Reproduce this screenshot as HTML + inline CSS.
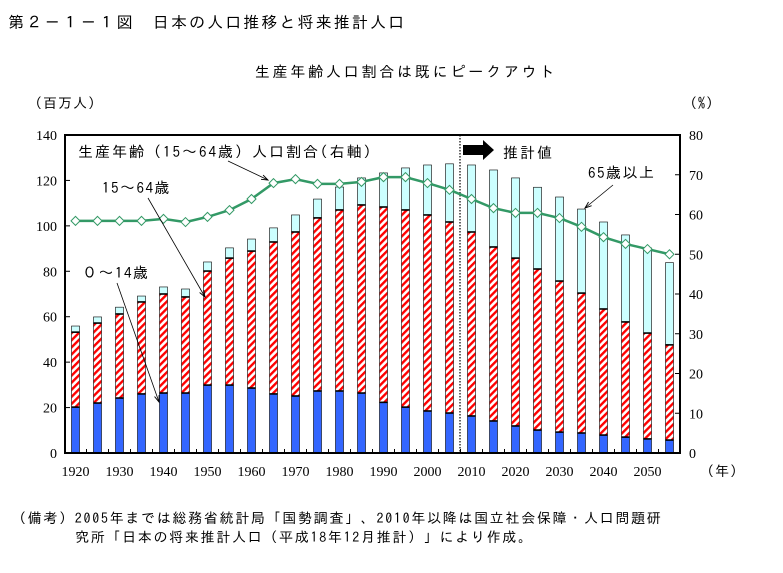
<!DOCTYPE html>
<html><head><meta charset="utf-8"><style>
body{margin:0;background:#fff;}
svg text{font-family:"Liberation Serif","Noto Serif CJK SC","Noto Sans CJK JP",serif;fill:#000;}
svg text.jp{font-family:"IPAGothic","Noto Sans CJK JP",sans-serif;}
</style></head><body>
<svg id="chart" width="783" height="568" viewBox="0 0 783 568" xmlns="http://www.w3.org/2000/svg">
<defs>
<pattern id="hatch" width="5" height="5" patternUnits="userSpaceOnUse" patternTransform="rotate(45)">
<rect width="5" height="5" fill="#fff"/><rect width="2.4" height="5" fill="#ff0000"/>
</pattern>
</defs>
<text class="jp" x="8" y="28" font-size="16" letter-spacing="2.1">第２－１－１図　日本の人口推移と将来推計人口</text>
<text class="jp" x="406" y="77" font-size="15" letter-spacing="2.8" text-anchor="middle">生産年齢人口割合は既にピークアウト</text>
<text class="jp" x="28" y="108" font-size="14" letter-spacing="1">（百万人）</text>
<text class="jp" x="683" y="108" font-size="14" letter-spacing="1">（%）</text>
<text class="jp" x="700" y="476" font-size="14" letter-spacing="1">（年）</text>
<text class="jp" x="12" y="523" font-size="14" letter-spacing="1.7">（備考）2005年までは総務省統計局「国勢調査」、2010年以降は国立社会保障・人口問題研</text>
<text class="jp" x="75" y="542" font-size="14" letter-spacing="1.7">究所「日本の将来推計人口（平成18年12月推計）」により作成。</text>
<g id="plot"></g>
</svg>
<script>
const years=[1920,1925,1930,1935,1940,1945,1950,1955,1960,1965,1970,1975,1980,1985,1990,1995,2000,2005,2010,2015,2020,2025,2030,2035,2040,2045,2050,2055];
const age0to14=[20.2,22,24.2,26,26.4,26.4,29.9,29.9,28.6,26,25.1,27.3,27.3,26.4,22.3,20.2,18.5,17.6,16.3,14.1,11.9,10.1,9.2,8.8,7.9,7,6.2,5.7];
const age15to64=[33,35.2,37,40.5,43.6,42.3,50.2,55.9,60.3,66.9,72.2,76.2,79.7,82.8,86,86.8,86.3,84.1,81,76.6,73.9,70.9,66.5,61.6,55.5,50.7,46.6,41.9];
const age65plus=[2.7,2.7,3,2.6,3.1,3.5,4,4.5,5.3,6.2,7.5,8.3,10.1,11.9,15,18.5,22,25.6,29.5,33.9,35.3,36,37,37,38.3,38.3,37.5,36.2];
const workingShare=[58.4,58.4,58.4,58.4,58.9,58.1,59.4,61.1,63.9,67.9,68.9,67.7,67.7,68.2,69.4,69.4,67.9,66.2,63.9,61.6,60.4,60.4,59.1,56.9,54.3,52.6,51.3,50];
const leftTicks=[0,20,40,60,80,100,120,140];
const rightTicks=[0,10,20,30,40,50,60,70,80];
const xLabels=[1920,1930,1940,1950,1960,1970,1980,1990,2000,2010,2020,2030,2040,2050];

const NS="http://www.w3.org/2000/svg";
const g=document.getElementById('plot');
const L=65,R=680,T=135,B=453;
const yL=v=>B-(v/140)*(B-T);
const yR=v=>B-(v/80)*(B-T);
const xC=yr=>75.5+(yr-1920)/5*22;
function mk(tag,attrs,parent){const e=document.createElementNS(NS,tag);for(const k in attrs)e.setAttribute(k,attrs[k]);(parent||g).appendChild(e);return e;}

years.forEach((yr,i)=>{
  const x=xC(yr)-4, w=8;
  const c=age0to14[i], wk=age15to64[i], o=age65plus[i];
  const b1=mk('rect',{x:x,y:yL(c),width:w,height:yL(0)-yL(c),fill:'#3366ff',stroke:'#000','stroke-width':0.6});
  
  
  const b2=mk('rect',{x:x,y:yL(c+wk),width:w,height:yL(c)-yL(c+wk),fill:'url(#hatch)',stroke:'#000','stroke-width':0.6});
  
  
  const b3=mk('rect',{x:x,y:yL(c+wk+o),width:w,height:yL(c+wk)-yL(c+wk+o),fill:'#ccffff',stroke:'#000','stroke-width':0.6});
  
  
  const s1=mk('line',{x1:x,x2:x+w,y1:yL(c),y2:yL(c),stroke:'#000','stroke-width':1.6});
  
  
  const s2=mk('line',{x1:x,x2:x+w,y1:yL(c+wk),y2:yL(c+wk),stroke:'#000','stroke-width':1.6});
  
  
});

const fr=mk('rect',{x:L,y:T,width:R-L,height:B-T,fill:'none',stroke:'#000','stroke-width':2});



leftTicks.forEach(v=>{
  const t=mk('line',{x1:L,x2:L+5,y1:yL(v),y2:yL(v),stroke:'#000'});
  
  
  const tx=mk('text',{x:L-8,y:yL(v)+5,'font-size':14,'text-anchor':'end'});
  tx.textContent=v;
  
  
});
rightTicks.forEach(v=>{
  const t=mk('line',{x1:R-5,x2:R,y1:yR(v),y2:yR(v),stroke:'#000'});
  
  
  const tx=mk('text',{x:R+9,y:yR(v)+5,'font-size':14});
  tx.textContent=v;
  
  
});
years.forEach(yr=>{
  const t=mk('line',{x1:xC(yr)+11,x2:xC(yr)+11,y1:B,y2:B-4,stroke:'#000'});
  
  
});
xLabels.forEach(yr=>{
  const tx=mk('text',{x:xC(yr),y:476,'font-size':14,'text-anchor':'middle'});
  tx.textContent=yr;
  
  
});

const dv=mk('line',{x1:460,x2:460,y1:T,y2:B,stroke:'#000','stroke-width':1.2,'stroke-dasharray':'1.5,1.5'});



const pts=years.map((yr,i)=>xC(yr)+','+yR(workingShare[i])).join(' ');
const pl=mk('polyline',{points:pts,fill:'none',stroke:'#339966','stroke-width':2.5});


years.forEach((yr,i)=>{
  const x=xC(yr),y=yR(workingShare[i]);
  const d=mk('polygon',{points:`${x},${y-4.5} ${x+4.5},${y} ${x},${y+4.5} ${x-4.5},${y}`,fill:'#fff',stroke:'#339966','stroke-width':1});
  
  
});

function ann(txt,x,y,name,ls){const t=mk('text',{x:x,y:y,'font-size':15,'class':'jp','letter-spacing':ls});t.textContent=txt;}
function arr(x1,y1,x2,y2,name){
  const l=mk('line',{x1:x1,y1:y1,x2:x2,y2:y2,stroke:'#000','stroke-width':0.8});
  
  
  const a=Math.atan2(y2-y1,x2-x1),s=7;
  const p=`${x2},${y2} ${x2-s*Math.cos(a-0.35)},${y2-s*Math.sin(a-0.35)} ${x2},${y2} ${x2-s*Math.cos(a+0.35)},${y2-s*Math.sin(a+0.35)}`;
  const h=mk('polyline',{points:p,fill:'none',stroke:'#000','stroke-width':0.9});
  
  
}
ann('生産年齢（15～64歳）人口割合(右軸)',78,157,'working-share-label',2);
arr(228,161,268,180,'working-share-arrow');
ann('15～64歳',102,193,'working-age-label',1.5);
arr(148,198,205,297,'working-age-arrow');
ann('０～14歳',82,278,'child-label',1.5);
arr(117,283,159,402,'child-arrow');
ann('65歳以上',588,178,'elderly-label',1.5);
arr(613,185,585,208,'elderly-arrow');
ann('推計値',503,158,'projection-label',2);
const ba=mk('polygon',{points:'463,145 483,145 483,140 494,150 483,160 483,155 463,155',fill:'#000'});


</script>
</body></html>
